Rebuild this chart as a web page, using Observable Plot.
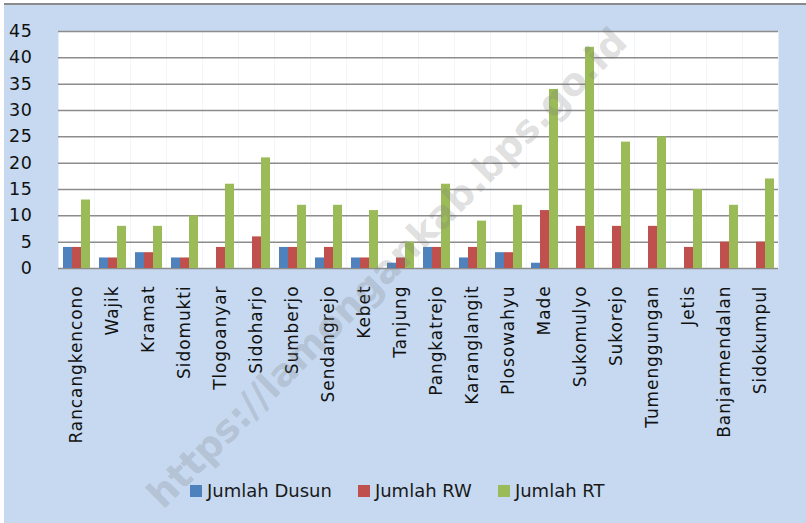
<!DOCTYPE html>
<html>
<head>
<meta charset="utf-8">
<script src="https://cdn.jsdelivr.net/npm/d3@7"></script>
<script src="https://cdn.jsdelivr.net/npm/@observablehq/plot@0.6"></script>
<style>
  html, body { margin: 0; padding: 0; background: #ffffff; width: 806px; height: 523px; overflow: hidden; }
  #frame { position: absolute; left: 4px; top: 3px; width: 802px; height: 518px; background: #c6d9f0; border-top: 2px solid #8a8a8a; border-right: 1px solid #b0b8c4; box-sizing: content-box; }
  #chart { position: absolute; left: 0; top: 0; }
  #legend { position: absolute; top: 475px; left: 186px; display: flex; align-items: center; font-family: "DejaVu Sans", sans-serif; font-size: 18px; color: #1a1a1a; }
  .item { display: flex; align-items: center; margin-right: 26px; }
  .sw { width: 12px; height: 12px; margin-right: 5px; }
  #wm { position: absolute; left: 387px; top: 268px; transform: translate(-50%, -50%) rotate(-45deg); font-family: "DejaVu Sans", sans-serif; font-weight: bold; font-size: 38px; color: rgba(120,120,120,0.24); white-space: nowrap; pointer-events: none; }
</style>
</head>
<body>
<div id="frame">
  <div id="chart"></div>
  <div id="legend"></div>
</div>
<div id="wm">https://lamongankab.bps.go.id</div>
<script>
const villages = ["Rancangkencono","Wajik","Kramat","Sidomukti","Tlogoanyar","Sidoharjo","Sumberjo","Sendangrejo","Kebet","Tanjung","Pangkatrejo","Karanglangit","Plosowahyu","Made","Sukomulyo","Sukorejo","Tumenggungan","Jetis","Banjarmendalan","Sidokumpul"];
const jumlahDusun = [4,2,3,2,0,0,4,2,2,1,4,2,3,1,0,0,0,0,0,0];
const jumlahRW    = [4,2,3,2,4,6,4,4,2,2,4,4,3,11,8,8,8,4,5,5];
const jumlahRT    = [13,8,8,10,16,21,12,12,11,5,16,9,12,34,42,24,25,15,12,17];
const seriesNames = ["Jumlah Dusun","Jumlah RW","Jumlah RT"];
const seriesColors = ["#4f81bd","#c0504d","#9bbb59"];
const yTicks = [0,5,10,15,20,25,30,35,40,45];

const seriesValues = [jumlahDusun, jumlahRW, jumlahRT];
const table = [];
villages.forEach((v, i) => {
  seriesNames.forEach((s, j) => table.push({village: v, series: s, value: seriesValues[j][i]}));
});

const chart = Plot.plot({
  width: 802,
  height: 465,
  marginLeft: 49,
  marginRight: 23,
  marginTop: 26,
  marginBottom: 202,
  style: {background: "transparent", fontFamily: "DejaVu Sans, sans-serif", color: "#111"},
  fx: {domain: villages, padding: 0, label: null, tickRotate: -90, tickSize: 0, tickPadding: 17},
  x: {domain: seriesNames, paddingInner: 0, paddingOuter: 0.41, axis: null},
  y: {domain: [0, 45], ticks: yTicks, tickSize: 0, tickPadding: 26, label: null, grid: false},
  color: {domain: seriesNames, range: seriesColors},
  marks: [
    Plot.frame({fill: "white", stroke: null}),
    Plot.ruleY(yTicks, {stroke: "#8c8c8c", strokeWidth: 1.5}),
    Plot.barY(table, {fx: "village", x: "series", y: "value", fill: "series", inset: 0})
  ]
});
const svg = d3.select(chart);
svg.selectAll("g[aria-label^='fx-axis'] text").style("font-size", "17px").style("letter-spacing", "0.9px");
svg.selectAll("g[aria-label^='y-axis'] text").style("font-size", "17.5px").style("letter-spacing", "0.6px");
document.getElementById("chart").appendChild(chart);

const legend = document.getElementById("legend");
seriesNames.forEach((s, i) => {
  const it = document.createElement("div");
  it.className = "item";
  const sw = document.createElement("div");
  sw.className = "sw";
  sw.style.background = seriesColors[i];
  const t = document.createElement("span");
  t.textContent = s;
  it.appendChild(sw); it.appendChild(t);
  legend.appendChild(it);
});
</script>
</body>
</html>
